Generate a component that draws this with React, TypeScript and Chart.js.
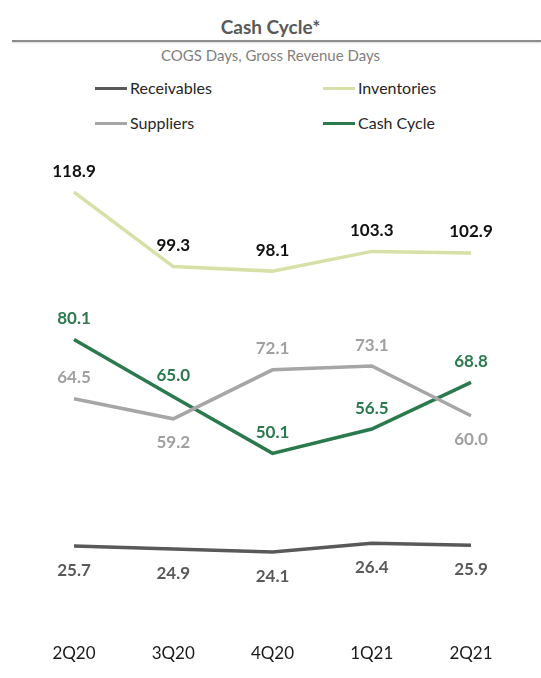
import React, { useEffect, useRef } from "react";
import { Chart, registerables } from "chart.js";

Chart.register(...registerables);

const categories = ["2Q20", "3Q20", "4Q20", "1Q21", "2Q21"];
const receivables = [25.7, 24.9, 24.1, 26.4, 25.9];
const inventories = [118.9, 99.3, 98.1, 103.3, 102.9];
const suppliers = [64.5, 59.2, 72.1, 73.1, 60.0];
const cashCycle = [80.1, 65.0, 50.1, 56.5, 68.8];

const FONT = "Lato, 'Open Sans', sans-serif";

const C_REC = "#595959";
const C_INV = "#d7e0a6";
const C_SUP = "#a6a6a6";
const C_CC = "#2b7a4d";

// label placement per dataset (1 = above, -1 = below)
const placement: Record<string, number[]> = {
  Receivables: [-1, -1, -1, -1, -1],
  Inventories: [1, 1, 1, 1, 1],
  Suppliers: [1, -1, 1, 1, -1],
  "Cash Cycle": [1, 1, 1, 1, 1],
};
const labelColors: Record<string, string> = {
  Receivables: "#595959",
  Inventories: "#111111",
  Suppliers: "#a0a0a0",
  "Cash Cycle": "#2b7a4d",
};

const dataLabelPlugin = {
  id: "dataLabels",
  afterDatasetsDraw(chart: any) {
    const ctx = chart.ctx;
    ctx.save();
    ctx.font = `bold 17px ${FONT}`;
    ctx.textAlign = "center";
    ctx.textBaseline = "middle";
    chart.data.datasets.forEach((ds: any, i: number) => {
      const meta = chart.getDatasetMeta(i);
      const pl = placement[ds.label];
      ctx.fillStyle = labelColors[ds.label];
      meta.data.forEach((pt: any, j: number) => {
        const v = ds.data[j] as number;
        const dy = pl[j] > 0 ? -21 : 24;
        ctx.fillText(v.toFixed(1), pt.x, pt.y + dy);
      });
    });
    ctx.restore();
  },
};

function LegendItem({ color, label, x, y }: { color: string; label: string; x: number; y: number }) {
  return (
    <div style={{ position: "absolute", left: x, top: y - 10, height: 20, display: "flex", alignItems: "center" }}>
      <div style={{ width: 32, height: 3, background: color, marginRight: 3 }} />
      <span style={{ fontFamily: FONT, fontSize: 16, color: "#262626", lineHeight: "20px" }}>{label}</span>
    </div>
  );
}

export default function App() {
  const ref = useRef<HTMLCanvasElement | null>(null);

  useEffect(() => {
    if (!ref.current) return;
    const chart = new Chart(ref.current, {
      type: "line",
      data: {
        labels: categories,
        datasets: [
          { label: "Receivables", data: receivables, borderColor: C_REC, borderWidth: 3.5, pointRadius: 0, tension: 0 },
          { label: "Inventories", data: inventories, borderColor: C_INV, borderWidth: 3.5, pointRadius: 0, tension: 0 },
          { label: "Suppliers", data: suppliers, borderColor: C_SUP, borderWidth: 3.5, pointRadius: 0, tension: 0 },
          { label: "Cash Cycle", data: cashCycle, borderColor: C_CC, borderWidth: 3.5, pointRadius: 0, tension: 0 },
        ],
      },
      options: {
        animation: false,
        responsive: false,
        maintainAspectRatio: false,
        layout: { padding: { left: 74, right: 70, top: 10, bottom: 14 } },
        plugins: {
          legend: { display: false },
          tooltip: { enabled: false },
          title: { display: false },
        },
        scales: {
          x: {
            offset: false,
            grid: { display: false, drawTicks: false, tickLength: 0 },
            border: { display: false },
            ticks: { color: "#1a1a1a", font: { family: FONT, size: 17 }, padding: 0, maxRotation: 0 },
          },
          y: {
            display: false,
            min: 0,
            max: 130,
          },
        },
      },
      plugins: [dataLabelPlugin],
    });
    return () => chart.destroy();
  }, []);

  return (
    <div style={{ position: "fixed", left: 0, top: 0, width: 541, height: 678, background: "#fff", overflow: "hidden" }}>
      <div style={{ position: "absolute", left: 0, width: 541, top: 15, textAlign: "center", fontFamily: FONT, fontWeight: 700, fontSize: 19, color: "#595959", lineHeight: "24px" }}>
        Cash Cycle*
      </div>
      <div style={{ position: "absolute", left: 12, right: 0, top: 40, height: 2, background: "#8c8c8c", boxShadow: "0 1px 2px rgba(0,0,0,0.15)" }} />
      <div style={{ position: "absolute", left: 0, width: 541, top: 46, textAlign: "center", fontFamily: FONT, fontSize: 15, color: "#7f7f7f", lineHeight: "18px" }}>
        COGS Days, Gross Revenue Days
      </div>
      <LegendItem color={C_REC} label="Receivables" x={95} y={88} />
      <LegendItem color={C_INV} label="Inventories" x={323} y={88} />
      <LegendItem color={C_SUP} label="Suppliers" x={95} y={123} />
      <LegendItem color={C_CC} label="Cash Cycle" x={323} y={123} />
      <canvas ref={ref} width={541} height={538} style={{ position: "absolute", left: 0, top: 140, width: 541, height: 538 }} />
    </div>
  );
}
